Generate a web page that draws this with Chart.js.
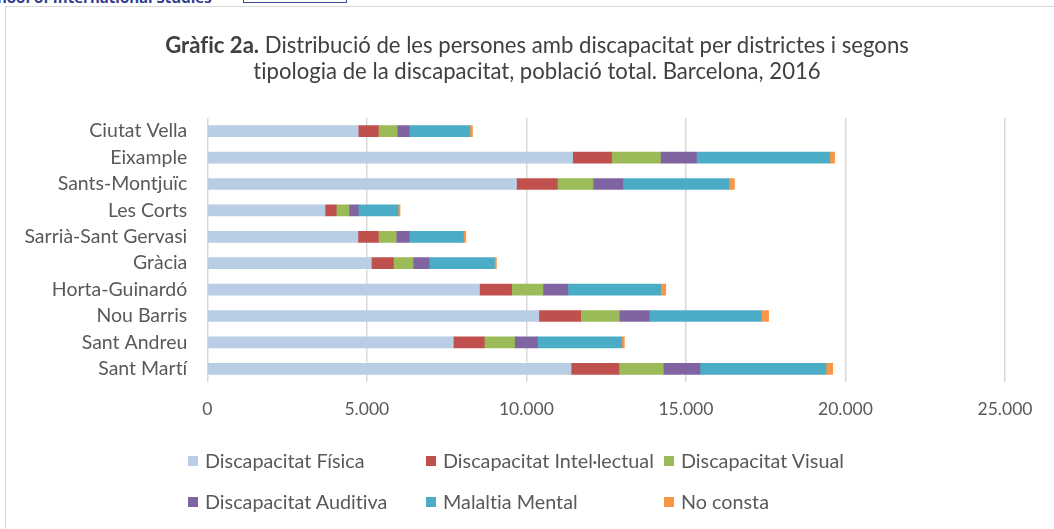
<!DOCTYPE html>
<html>
<head>
<meta charset="utf-8">
<script src="https://cdn.jsdelivr.net/npm/chart.js@4.4.1/dist/chart.umd.min.js"></script>
<style>
  html, body { margin: 0; padding: 0; background: #fff; }
  #wrap { position: relative; width: 1054px; height: 529px; overflow: hidden; font-family: Lato, sans-serif; font-variant-ligatures: none; }
  #frame { position: absolute; left: 5px; top: 6px; width: 1100px; height: 600px; border-left: 1.5px solid #d9d9d9; border-top: 1.5px solid #d9d9d9; }
  #school { position: absolute; left: -19px; top: -13px; font-family: 'Open Sans', sans-serif; font-weight: bold; font-size: 15px; color: #2f3d8f; white-space: nowrap; }
  #logo { position: absolute; left: 243px; top: -10px; width: 102px; height: 11px; border: 1.5px solid #3b4ba0; }
  #title { position: absolute; left: 0; width: 1074px; top: 32px; text-align: center; line-height: 26px; color: #404040; white-space: nowrap; }
  #chart { position: absolute; left: 0; top: 0; }
  #legend { position: absolute; left: 0; top: 0; color: #595959; }
  .item { position: absolute; white-space: nowrap; }
  .box { position: absolute; left: 0; top: -5px; width: 10px; height: 10px; }
  .lbl { position: absolute; left: 17px; top: 0; transform: translateY(-50%); line-height: 1; }
</style>
</head>
<body>
<div id="wrap">
  <div id="frame"></div>
  <div id="school">School of International Studies</div>
  <div id="logo"></div>
  <canvas id="chart" width="1054" height="529"></canvas>
  <div id="title"><b>Gràfic 2a.</b> Distribució de les persones amb discapacitat per districtes i segons<br>tipologia de la discapacitat, població total. Barcelona, 2016</div>
  <div id="legend"></div>
</div>
<script>
const districts = ['Ciutat Vella', 'Eixample', 'Sants-Montjuïc', 'Les Corts', 'Sarrià-Sant Gervasi',
  'Gràcia', 'Horta-Guinardó', 'Nou Barris', 'Sant Andreu', 'Sant Martí'];

const fisica     = [4730, 11450, 9690, 3690, 4720, 5140, 8530, 10390, 7710, 11400];
const intel      = [630, 1220, 1280, 350, 640, 690, 1010, 1310, 970, 1500];
const visual     = [590, 1530, 1120, 400, 560, 620, 980, 1210, 950, 1390];
const auditiva   = [380, 1130, 930, 290, 410, 500, 780, 940, 720, 1150];
const mental     = [1900, 4180, 3330, 1250, 1700, 2050, 2910, 3510, 2640, 3950];
const noConsta   = [80, 150, 170, 60, 70, 60, 160, 230, 80, 210];

const xTicks = [0, 5000, 10000, 15000, 20000, 25000];

const series = [
  { label: 'Discapacitat Física', data: fisica, color: '#b9cde5' },
  { label: 'Discapacitat Intel·lectual', data: intel, color: '#c0504d' },
  { label: 'Discapacitat Visual', data: visual, color: '#9bbb59' },
  { label: 'Discapacitat Auditiva', data: auditiva, color: '#8064a2' },
  { label: 'Malaltia Mental', data: mental, color: '#4bacc6' },
  { label: 'No consta', data: noConsta, color: '#f79646' },
];

const fmt = v => String(v).replace(/\B(?=(\d{3})+(?!\d))/g, '.');

// pick a Lato size that gives the text the width it has in the picture
const meter = document.createElement('canvas').getContext('2d');
function fitSize(parts, target) {
  let w = 0;
  parts.forEach(([txt, weight]) => {
    meter.font = weight + ' 20px Lato';
    w += meter.measureText(txt).width;
  });
  return 20 * target / w;
}

const titleSize = fitSize([['Gràfic 2a.', 'bold'], [' Distribució de les persones amb discapacitat per districtes i segons', 'normal']], 744);
const catSize = fitSize([['Ciutat Vella', 'normal']], 98);
const tickSize = fitSize([['20.000', 'normal']], 55);
const legendSize = fitSize([['Discapacitat Intel·lectual', 'normal']], 211);

document.getElementById('title').style.fontSize = titleSize + 'px';

const ctx = document.getElementById('chart');
const chart = new Chart(ctx, {
  type: 'bar',
  data: {
    labels: districts,
    datasets: series.map(s => ({
      label: s.label,
      data: s.data,
      backgroundColor: s.color,
      borderWidth: 0,
      barThickness: 11,
    })),
  },
  options: {
    indexAxis: 'y',
    responsive: false,
    animation: false,
    layout: { padding: { top: 118, bottom: 107, right: 49, left: 0 } },
    plugins: {
      legend: { display: false },
      title: { display: false },
      tooltip: { enabled: false },
    },
    scales: {
      x: {
        stacked: true,
        min: 0,
        max: 25000,
        afterBuildTicks: axis => { axis.ticks = xTicks.map(v => ({ value: v })); },
        afterFit: axis => { axis.height = 40; },
        grid: { color: '#d9d9d9', lineWidth: 1.5, drawTicks: false },
        border: { display: false },
        ticks: {
          color: '#595959',
          font: { family: 'Lato', size: tickSize },
          padding: 17,
          callback: v => fmt(v),
        },
      },
      y: {
        stacked: true,
        afterFit: axis => { axis.width = 207.3; },
        grid: { display: false, drawTicks: false },
        border: { display: false },
        ticks: {
          color: '#595959',
          font: { family: 'Lato', size: catSize },
          padding: 20,
        },
      },
    },
  },
});

// legend laid out in fixed columns, built from the datasets
const legendEl = document.getElementById('legend');
legendEl.style.fontSize = legendSize + 'px';
const cols = [188, 426, 664];
const rows = [461, 502];
chart.data.datasets.forEach((ds, i) => {
  const item = document.createElement('div');
  item.className = 'item';
  item.style.left = cols[i % 3] + 'px';
  item.style.top = rows[Math.floor(i / 3)] + 'px';
  item.innerHTML = '<div class="box" style="background:' + ds.backgroundColor + '"></div><div class="lbl">' + ds.label + '</div>';
  legendEl.appendChild(item);
});
</script>
</body>
</html>
